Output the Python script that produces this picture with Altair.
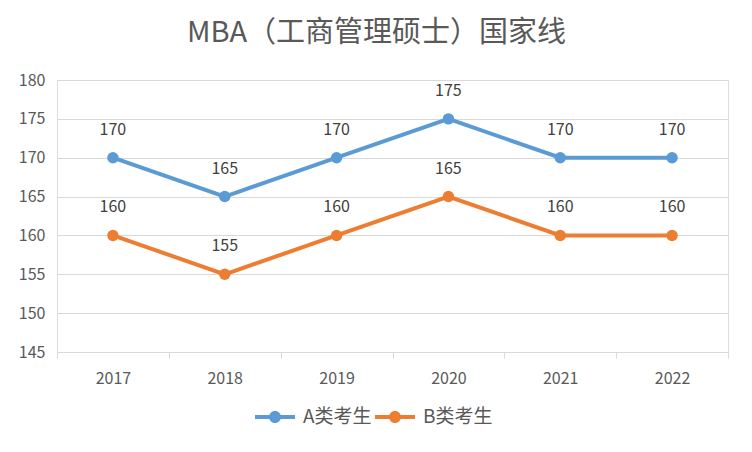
import altair as alt
import pandas as pd

years = ["2017", "2018", "2019", "2020", "2021", "2022"]
series_names = ["A类考生", "B类考生"]
a_vals = [170, 165, 170, 175, 170, 170]
b_vals = [160, 155, 160, 165, 160, 160]
colors = ["#5B9BD5", "#ED7D31"]
y_ticks = [145, 150, 155, 160, 165, 170, 175, 180]

rows = []
for name, vals in zip(series_names, [a_vals, b_vals]):
    for yr, v in zip(years, vals):
        rows.append({"year": yr, "value": v, "series": name})
df = pd.DataFrame(rows)

FONT = "Noto Sans CJK SC"

x_enc = alt.X(
    "year:O",
    sort=years,
    scale=alt.Scale(type="band", paddingInner=0, paddingOuter=0),
    axis=alt.Axis(
        title=None, labelAngle=0, grid=False,
        domainColor="#d9d9d9", tickColor="#d9d9d9", tickSize=6,
        tickBand="extent", labelPadding=12,
        labelFontSize=16, labelColor="#595959", labelFont=FONT,
    ),
)
y_enc = alt.Y(
    "value:Q",
    scale=alt.Scale(domain=[145, 180], nice=False, zero=False),
    axis=alt.Axis(
        title=None, values=y_ticks, grid=True, gridColor="#d9d9d9",
        domain=False, ticks=False, labelPadding=12,
        labelFontSize=16, labelColor="#595959", labelFont=FONT,
    ),
)

sym = ("M-1,-0.1 L1,-0.1 L1,0.1 L-1,0.1 Z "
       "M0.3,0 A0.3,0.3 0 1,1 -0.3,0 A0.3,0.3 0 1,1 0.3,0 Z")

color_scale = alt.Scale(domain=series_names, range=colors)

base = alt.Chart(df)

lines = base.mark_line(strokeWidth=4).encode(
    x=x_enc, y=y_enc,
    color=alt.Color(
        "series:N", scale=color_scale,
        legend=alt.Legend(
            title=None, orient="none", direction="horizontal",
            legendX=198, legendY=317,
            symbolType=sym, symbolSize=1600, symbolStrokeWidth=0,
            symbolOpacity=1,
            labelFontSize=19, labelColor="#595959", labelFont=FONT,
            labelOffset=8, columnPadding=3,
        ),
    ),
)
points = base.mark_point(filled=True, size=130, opacity=1).encode(
    x=x_enc, y=y_enc,
    color=alt.Color("series:N", scale=color_scale, legend=None),
)
labels = base.mark_text(dy=-28, fontSize=16, color="#404040", font=FONT).encode(
    x=x_enc, y=y_enc, text=alt.Text("value:Q"),
)

chart = alt.layer(lines, points, labels).properties(
    width=671, height=272,
    autosize=alt.AutoSizeParams(type="none"),
    padding={"left": 49, "top": 72, "right": 16, "bottom": 92},
    title=alt.TitleParams(
        "MBA（工商管理硕士）国家线", fontSize=29, fontWeight="normal",
        color="#595959", font=FONT, anchor="middle", dx=-16, offset=24,
    ),
).configure_view(stroke=None).configure(background="white")

chart.save("out.html", embed_options={"renderer": "svg", "actions": False})
